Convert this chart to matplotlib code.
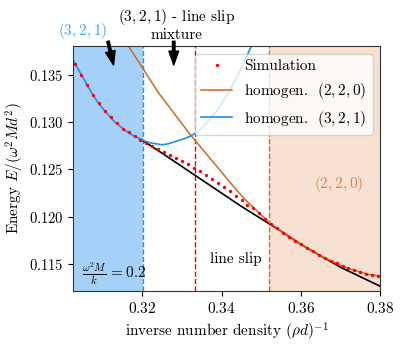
import numpy as np
import matplotlib
matplotlib.use("Agg")
from matplotlib import pyplot as plt

plt.rcParams['font.family'] = 'serif'
plt.rcParams['font.serif'] = ['cmr10']
plt.rcParams['mathtext.fontset'] = 'cm'
plt.rcParams['axes.formatter.use_mathtext'] = True
plt.rcParams['font.size'] = 11
plt.rcParams['xtick.labelsize'] = 11
plt.rcParams['ytick.labelsize'] = 10.5

# courbe homogene (3,2,1)
x321 = [0.3025, 0.3040, 0.3055, 0.3070, 0.3085, 0.3100, 0.3115, 0.3130, 0.3145,
        0.3160, 0.3175, 0.3190, 0.3205, 0.3220, 0.3235, 0.3250, 0.3265, 0.3280,
        0.3295, 0.3310, 0.3325, 0.3340, 0.3360, 0.3390, 0.3420, 0.3450, 0.3475]
y321 = [0.1365, 0.1354, 0.1343, 0.1332, 0.1322, 0.1314, 0.1307, 0.1300, 0.1295,
        0.1290, 0.1286, 0.1283, 0.1280, 0.1278, 0.1277, 0.1276, 0.1277, 0.1279,
        0.1281, 0.1283, 0.1286, 0.1290, 0.1298, 0.1313, 0.1333, 0.1357, 0.1380]

# courbe homogene (2,2,0)
x220 = [0.3163, 0.3180, 0.3200, 0.3220, 0.3240, 0.3260, 0.3280, 0.3300, 0.3320,
        0.3340, 0.3360, 0.3380, 0.3400, 0.3420, 0.3440, 0.3460, 0.3480, 0.3500,
        0.3520, 0.3540, 0.3560, 0.3580, 0.3600, 0.3625, 0.3650, 0.3675, 0.3700,
        0.3725, 0.3750, 0.3775, 0.3800]
y220 = [0.1381, 0.1370, 0.1357, 0.1344, 0.1331, 0.1320, 0.1309, 0.1298, 0.1287,
        0.1277, 0.1267, 0.1257, 0.1247, 0.1237, 0.1227, 0.1218, 0.1210, 0.1202,
        0.1194, 0.1188, 0.1182, 0.1176, 0.1171, 0.1165, 0.1159, 0.1154, 0.1149,
        0.1145, 0.1142, 0.1139, 0.1138]

# line slip (noir)
xls = [0.3202, 0.3250, 0.3300, 0.3350, 0.3400, 0.3450, 0.3500, 0.3550, 0.3600,
       0.3650, 0.3700, 0.3750, 0.3800]
yls = [0.1280, 0.1267, 0.1253, 0.1239, 0.1225, 0.1211, 0.1198, 0.1185, 0.1171,
       0.1159, 0.1147, 0.1137, 0.1127]

# simulation
xsim = [0.3030, 0.3045, 0.3060, 0.3075, 0.3090, 0.3105, 0.3120, 0.3135, 0.3150,
        0.3165, 0.3180, 0.3195, 0.3210, 0.3225, 0.3240, 0.3255, 0.3270, 0.3285,
        0.3300, 0.3315, 0.3330, 0.3345, 0.3360, 0.3375, 0.3390, 0.3405, 0.3420,
        0.3435, 0.3450, 0.3465, 0.3480, 0.3495, 0.3510, 0.3525, 0.3540, 0.3555,
        0.3570, 0.3585, 0.3600, 0.3615, 0.3630, 0.3645, 0.3660, 0.3675, 0.3690,
        0.3705, 0.3720, 0.3735, 0.3750, 0.3765, 0.3780, 0.3795]
ysim = [0.1361, 0.1350, 0.1339, 0.1328, 0.1320, 0.1312, 0.1305, 0.1299, 0.1293,
        0.1289, 0.1285, 0.1281, 0.1278, 0.1275, 0.1272, 0.1268, 0.1265, 0.1262,
        0.1259, 0.1256, 0.1252, 0.1248, 0.1244, 0.1240, 0.1236, 0.1231, 0.1227,
        0.1222, 0.1218, 0.1213, 0.1209, 0.1204, 0.1198, 0.1193, 0.1188, 0.1183,
        0.1179, 0.1175, 0.1171, 0.1167, 0.1164, 0.1160, 0.1157, 0.1154, 0.1151,
        0.1148, 0.1146, 0.1144, 0.1142, 0.1140, 0.1139, 0.1138]

x_321 = 0.3202   # limite (3,2,1)
x_mix = 0.3332   # limite melange
x_220 = 0.352    # limite (2,2,0)

blue = '#1f8ef1'
orange = '#d2691e'

fig = plt.figure(figsize=(4.04, 3.46), dpi=100)
ax = fig.add_axes([0.181, 0.159, 0.76, 0.708])

ax.axvspan(0.3, x_321, color=blue, alpha=0.4, lw=0, zorder=0)
ax.axvspan(x_220, 0.39, color=orange, alpha=0.2, lw=0, zorder=0)
ax.axvline(x_321, color=blue, ls='--', lw=1)
ax.axvline(x_mix, color='red', ls='--', lw=1)
ax.axvline(x_220, color=orange, ls='--', lw=1)

ax.plot(xls, yls, '-k', lw=1.2)
ax.plot(x220, y220, '-', color=orange, lw=1.1, label=r'homogen. $\ (2,2,0)$')
ax.plot(x321, y321, '-', color=blue, lw=1.2, label=r'homogen. $\ (3,2,1)$')
ax.plot(xsim, ysim, 'o', color='red', ms=1.4, ls='none', label='Simulation', zorder=5)

ax.set_xlim(0.3025, 0.38)
ax.set_ylim(0.1122, 0.1380)
ax.set_xticks([0.32, 0.34, 0.36, 0.38])
ax.set_yticks([0.115, 0.120, 0.125, 0.130, 0.135])
ax.set_xlabel(r'inverse number density $(\rho d)^{-1}$')
ax.set_ylabel(r'Energy $E/(\omega^2 M d^2)$', labelpad=2)
for s in ax.spines.values():
    s.set_color('#333333')

h, l = ax.get_legend_handles_labels()
ax.legend([h[2], h[0], h[1]], [l[2], l[0], l[1]], loc='upper right', numpoints=1)

ax.text(0.3048, 0.13955, r'$(3,2,1)$', color='#42a5f5', ha='center', va='center')
ax.annotate('', xy=(0.3127, 0.1360), xytext=(0.3113, 0.1385),
            arrowprops=dict(facecolor='black', width=1.8, headwidth=7, headlength=10, shrink=0.0),
            annotation_clip=False)
ax.text(0.3286, 0.1403, r'$(3,2,1)$ - line slip' + '\nmixture', ha='center', va='center',
        linespacing=1.1)
ax.annotate('', xy=(0.3279, 0.1360), xytext=(0.3279, 0.1385),
            arrowprops=dict(facecolor='black', width=1.8, headwidth=7, headlength=10, shrink=0.0),
            annotation_clip=False)
ax.text(0.3435, 0.1156, 'line slip', ha='center', va='center')
ax.text(0.3694, 0.1235, r'$(2,2,0)$', color=orange, alpha=0.75, ha='center', va='center')
ax.text(0.3048, 0.11405, r'$\frac{\omega^2 M}{k}\, = 0.2$', ha='left', va='center')

plt.savefig('out.png', dpi=100)
